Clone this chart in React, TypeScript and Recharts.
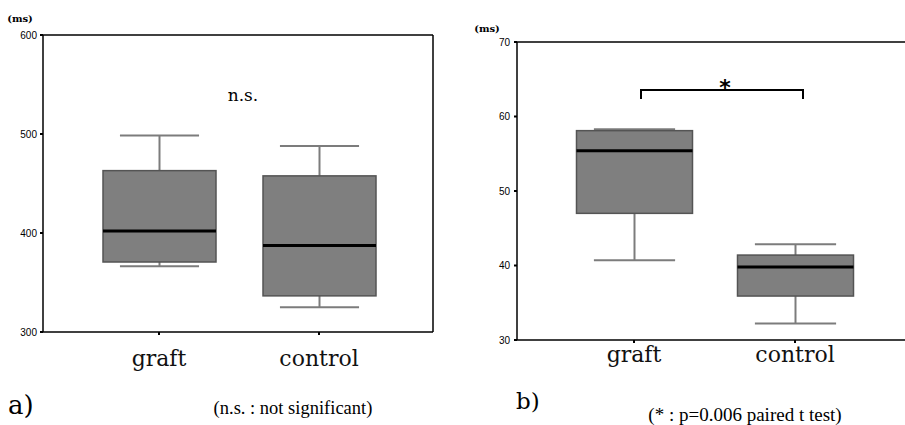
import React from 'react';
import { ComposedChart, Bar, XAxis, YAxis, ReferenceLine } from 'recharts';

const categories = ['graft', 'control'];

const aMin = [366.5, 325];
const aQ1 = [370.7, 336.5];
const aMedian = [402, 387.5];
const aQ3 = [463, 457.7];
const aMax = [498.6, 488];
const aTicks = [300, 400, 500, 600];

const bMin = [40.7, 32.2];
const bQ1 = [47.0, 35.9];
const bMedian = [55.4, 39.8];
const bQ3 = [58.1, 41.4];
const bMax = [58.3, 42.85];
const bTicks = [30, 40, 50, 60, 70];

function build(min: number[], q1: number[], med: number[], q3: number[], max: number[]) {
  return categories.map((c, i) => ({
    name: c,
    box: [q1[i], q3[i]],
    min: min[i],
    q1: q1[i],
    median: med[i],
    q3: q3[i],
    max: max[i],
  }));
}

const dataA = build(aMin, aQ1, aMedian, aQ3, aMax);
const dataB = build(bMin, bQ1, bMedian, bQ3, bMax);

const BoxShape = (props: any) => {
  const { x, y, width, height, payload } = props;
  if (!payload) return null;
  const top = Math.min(y, y + height);
  const h = Math.abs(height);
  const ppu = h / (payload.q3 - payload.q1);
  const yOf = (v: number) => top + (payload.q3 - v) * ppu;
  const cx = x + width / 2;
  const capW = width * 0.7;
  const wc = '#7c7c7c';
  return (
    <g>
      <line x1={cx} x2={cx} y1={yOf(payload.max)} y2={top} stroke={wc} strokeWidth={2} />
      <line x1={cx - capW / 2} x2={cx + capW / 2} y1={yOf(payload.max)} y2={yOf(payload.max)} stroke={wc} strokeWidth={2} />
      <line x1={cx} x2={cx} y1={top + h} y2={yOf(payload.min)} stroke={wc} strokeWidth={2} />
      <line x1={cx - capW / 2} x2={cx + capW / 2} y1={yOf(payload.min)} y2={yOf(payload.min)} stroke={wc} strokeWidth={2} />
      <rect x={x} y={top} width={width} height={h} fill="#7f7f7f" stroke="#545454" strokeWidth={1.5} />
      <line x1={x} x2={x + width} y1={yOf(payload.median)} y2={yOf(payload.median)} stroke="#000" strokeWidth={3} />
    </g>
  );
};

const makeXTick = (dy: number) => (props: any) => {
  const { x, y, payload } = props;
  return (
    <text x={x} y={y + dy} textAnchor="middle" fontFamily="'DejaVu Serif'" fontSize={22} fill="#111">
      {payload.value}
    </text>
  );
};

const yTickStyle = { fontSize: 10, fill: '#000', fontFamily: "'Liberation Sans', Arial, sans-serif" };

export default function App() {
  return (
    <div style={{ position: 'absolute', left: 0, top: 0, width: 905, height: 425, overflow: 'hidden', background: '#fff' }}>
      <div style={{ position: 'absolute', left: 0, top: 0 }}>
        <ComposedChart width={450} height={425} data={dataA} margin={{ top: 35, right: 16, bottom: 33, left: 3 }}>
          <ReferenceLine y={600} stroke="#000" strokeWidth={1.5} />
          <XAxis
            dataKey="name"
            padding={{ left: 36, right: 34 }}
            height={60}
            axisLine={{ stroke: '#000', strokeWidth: 1.5 }}
            tickLine={{ stroke: '#000', strokeWidth: 2 }}
            tickSize={3}
            tick={makeXTick(29)}
            interval={0}
          />
          <YAxis
            type="number"
            domain={[300, 600]}
            ticks={aTicks}
            width={40}
            interval={0}
            axisLine={{ stroke: '#000', strokeWidth: 1.5 }}
            tickLine={{ stroke: '#000', strokeWidth: 2 }}
            tickSize={3}
            tickMargin={3}
            tick={yTickStyle}
          />
          <YAxis
            yAxisId="frame"
            orientation="right"
            type="number"
            domain={[300, 600]}
            width={1}
            tick={false}
            tickLine={false}
            axisLine={{ stroke: '#000', strokeWidth: 1.5 }}
          />
          <Bar dataKey="box" barSize={113} shape={BoxShape} isAnimationActive={false} />
        </ComposedChart>
      </div>
      <div style={{ position: 'absolute', left: 450, top: 0 }}>
        <ComposedChart width={500} height={425} data={dataB} margin={{ top: 42, right: 10, bottom: 35, left: 27 }}>
          <ReferenceLine y={70} stroke="#000" strokeWidth={1.5} />
          <XAxis
            dataKey="name"
            padding={{ left: 36.5, right: 64.5 }}
            height={50}
            axisLine={{ stroke: '#000', strokeWidth: 1.5 }}
            tickLine={{ stroke: '#000', strokeWidth: 2 }}
            tickSize={3}
            tick={makeXTick(17)}
            interval={0}
          />
          <YAxis
            type="number"
            domain={[30, 70]}
            ticks={bTicks}
            width={40}
            interval={0}
            axisLine={{ stroke: '#000', strokeWidth: 1.5 }}
            tickLine={{ stroke: '#000', strokeWidth: 2 }}
            tickSize={3}
            tickMargin={4}
            tick={yTickStyle}
          />
          <Bar dataKey="box" barSize={116} shape={BoxShape} isAnimationActive={false} />
        </ComposedChart>
      </div>
      <svg width={905} height={425} style={{ position: 'absolute', left: 0, top: 0, pointerEvents: 'none' }}>
        <text x={20} y={22} textAnchor="middle" fontFamily="'DejaVu Serif'" fontWeight="bold" fontSize={10}>(ms)</text>
        <text x={243} y={101} textAnchor="middle" fontFamily="'DejaVu Serif'" fontSize={17}>n.s.</text>
        <text x={8} y={414} fontFamily="'DejaVu Serif'" fontSize={26}>a)</text>
        <text x={293} y={414} textAnchor="middle" fontFamily="'Liberation Serif'" fontSize={18.5}>(n.s. : not significant)</text>

        <text x={487} y={32} textAnchor="middle" fontFamily="'DejaVu Serif'" fontWeight="bold" fontSize={10}>(ms)</text>
        <path d="M641,99 V90 H803 V99" fill="none" stroke="#000" strokeWidth={2} />
        <text x={725} y={95} textAnchor="middle" fontFamily="'DejaVu Sans'" fontWeight="bold" fontSize={22}>*</text>
        <text x={516} y={409} fontFamily="'DejaVu Serif'" fontSize={23}>b)</text>
        <text x={745} y={421} textAnchor="middle" fontFamily="'Liberation Serif'" fontSize={19}>(* : p=0.006 paired t test)</text>
      </svg>
    </div>
  );
}
